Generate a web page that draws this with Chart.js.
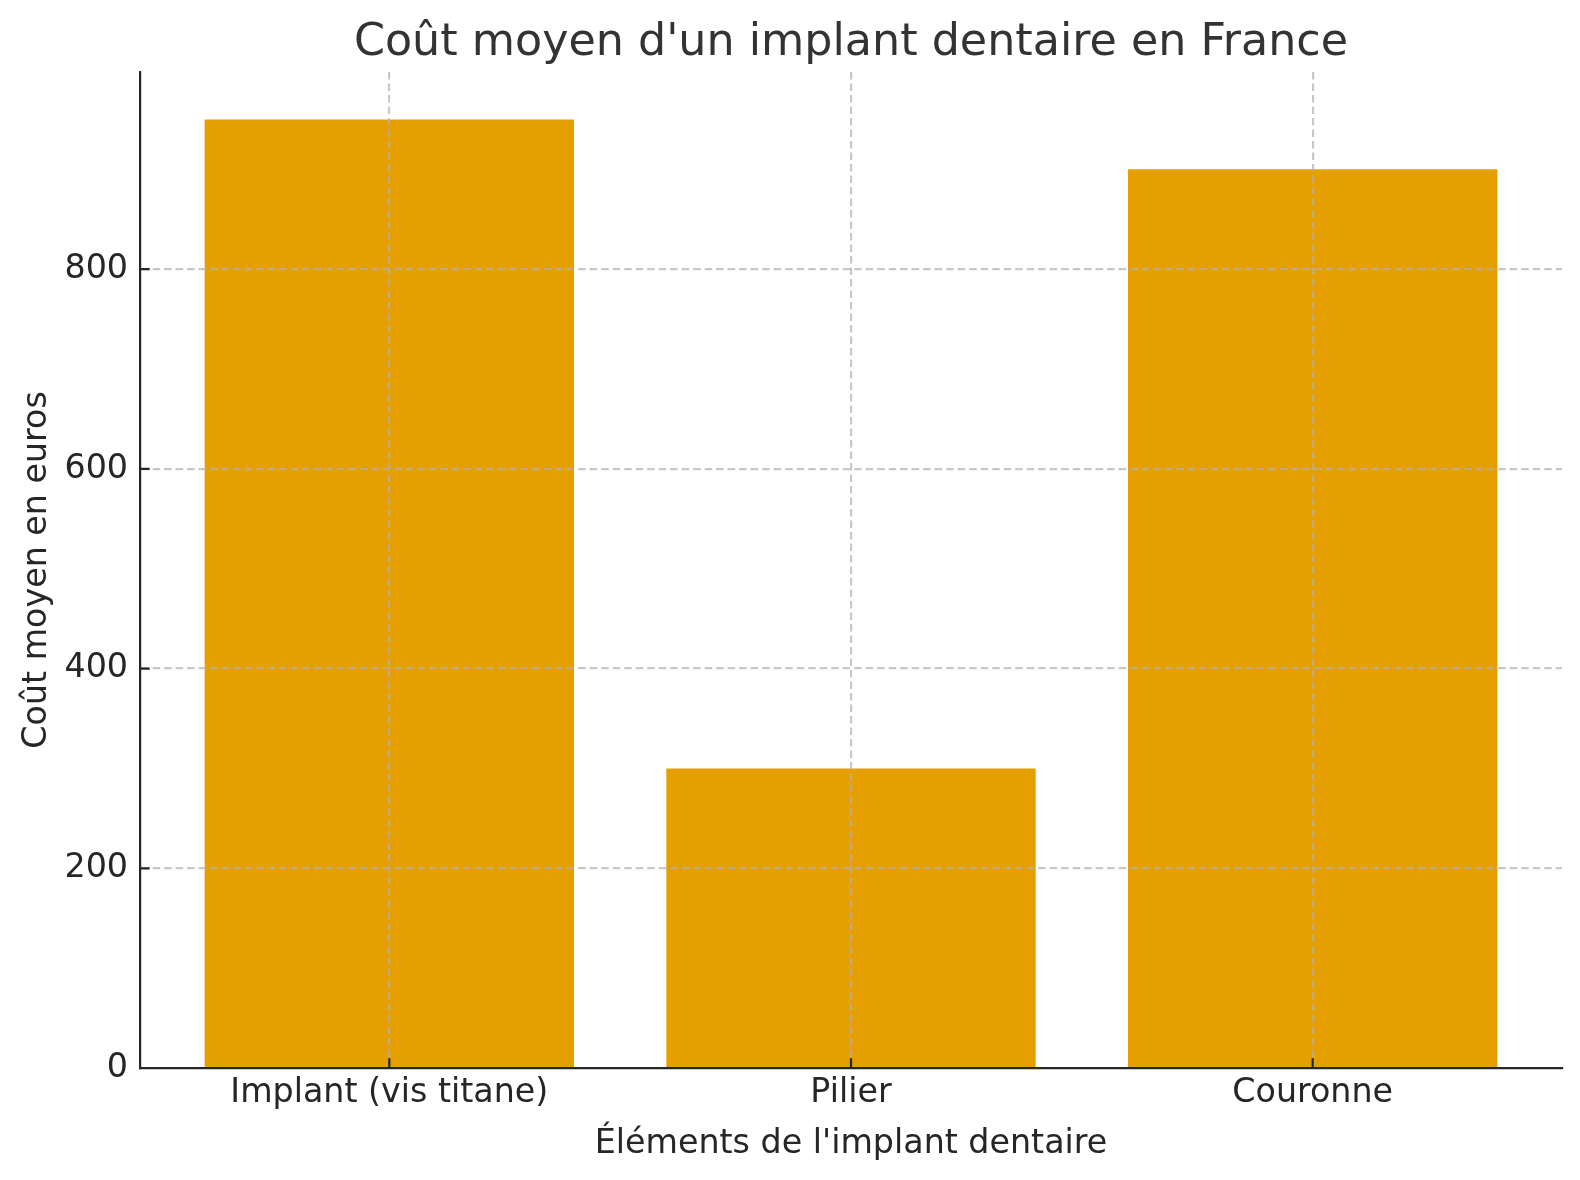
<!DOCTYPE html>
<html lang="fr">
<head>
<meta charset="utf-8">
<title>Coût moyen d'un implant dentaire en France</title>
<script src="https://cdn.jsdelivr.net/npm/chart.js@4/dist/chart.umd.min.js"></script>
<style>
    html, body { margin: 0; padding: 0; background: #ffffff; overflow: hidden; }
    #wrap { width: 1580px; height: 1180px; position: relative; }
    #chart { display: block; }
</style>
</head>
<body>
<div id="wrap"><canvas id="chart"></canvas></div>
<script>
// data
var categories = ["Implant (vis titane)", "Pilier", "Couronne"];
var costs = [950, 300, 900];
var y_ticks = [0, 200, 400, 600, 800];

var bar_color = "#E69F00";
var axis_color = "#262626";
var grid_color = "rgba(176, 176, 176, 0.7)";

Chart.defaults.font.family = "'DejaVu Sans', 'Liberation Sans', sans-serif";

// ticks in matplotlib style (pointing into the plot)
var inward_ticks = {
    id: "inward_ticks",
    afterLayout: function(chart) {
        // center the title over the plot area, not the whole canvas
        var t = chart.titleBlock;
        if (t) {
            t.left = chart.chartArea.left;
            t.right = chart.chartArea.right;
        }
    },
    afterDraw: function(chart) {
        var ctx = chart.ctx;
        var area = chart.chartArea;
        var x = chart.scales.x, y = chart.scales.y;
        var len = 9.7;
        ctx.save();
        ctx.strokeStyle = axis_color;
        ctx.lineWidth = 2.2;
        ctx.beginPath();
        x.ticks.forEach(function(t) {
            var px = x.getPixelForValue(t.value);
            ctx.moveTo(px, area.bottom);
            ctx.lineTo(px, area.bottom - len);
        });
        y.ticks.forEach(function(t) {
            var py = y.getPixelForValue(t.value);
            ctx.moveTo(area.left, py);
            ctx.lineTo(area.left + len, py);
        });
        ctx.stroke();
        ctx.restore();
    }
};

var points = categories.map(function(c, i) {
    return { x: i, y: costs[i] };
});

var chart = new Chart(document.getElementById("chart"), {
    type: "bar",
    data: {
        datasets: [{
            label: "Coût moyen",
            data: points,
            backgroundColor: bar_color,
            borderWidth: 0,
            categoryPercentage: 1.0,
            barPercentage: 0.8
        }]
    },
    options: {
        responsive: true,
        maintainAspectRatio: false,
        animation: false,
        devicePixelRatio: 1,
        layout: { padding: { left: 0, right: 18, top: 0, bottom: 0 } },
        plugins: {
            legend: { display: false },
            tooltip: { enabled: false },
            title: {
                display: true,
                text: "Coût moyen d'un implant dentaire en France",
                color: "#333333",
                font: { size: 44.4, weight: "normal" },
                padding: { top: 16.5, bottom: 2.2 }
            }
        },
        scales: {
            x: {
                type: "linear",
                min: -0.54,
                max: 2.54,
                offset: false,
                afterBuildTicks: function(scale) {
                    scale.ticks = categories.map(function(c, i) { return { value: i }; });
                },
                afterFit: function(scale) { scale.height = 112; },
                ticks: {
                    color: axis_color,
                    font: { size: 33.3 },
                    padding: 5.5,
                    maxRotation: 0,
                    autoSkip: false,
                    callback: function(value) { return categories[value]; }
                },
                grid: {
                    offset: false,
                    color: grid_color,
                    lineWidth: 2.2,
                    drawTicks: false,
                    z: 1
                },
                border: {
                    display: true,
                    color: axis_color,
                    width: 2.2,
                    dash: [7.5, 4],
                    z: 2
                },
                title: {
                    display: true,
                    text: "Éléments de l'implant dentaire",
                    color: axis_color,
                    font: { size: 33.3 },
                    padding: { top: 0, bottom: 16 }
                }
            },
            y: {
                min: 0,
                max: 997.5,
                afterBuildTicks: function(scale) {
                    scale.ticks = y_ticks.map(function(v) { return { value: v }; });
                },
                afterFit: function(scale) { scale.width = 140; },
                ticks: {
                    color: axis_color,
                    font: { size: 33.3 },
                    padding: 12
                },
                grid: {
                    color: function(c) {
                        return c.tick && c.tick.value === 0 ? "rgba(0,0,0,0)" : grid_color;
                    },
                    lineWidth: 2.2,
                    drawTicks: false,
                    z: 1
                },
                border: {
                    display: true,
                    color: axis_color,
                    width: 2.2,
                    dash: [7.5, 4],
                    z: 2
                },
                title: {
                    display: true,
                    text: "Coût moyen en euros",
                    color: axis_color,
                    font: { size: 33.3 },
                    padding: { top: 17.5, bottom: 0 }
                }
            }
        }
    },
    plugins: [inward_ticks]
});
</script>
</body>
</html>
